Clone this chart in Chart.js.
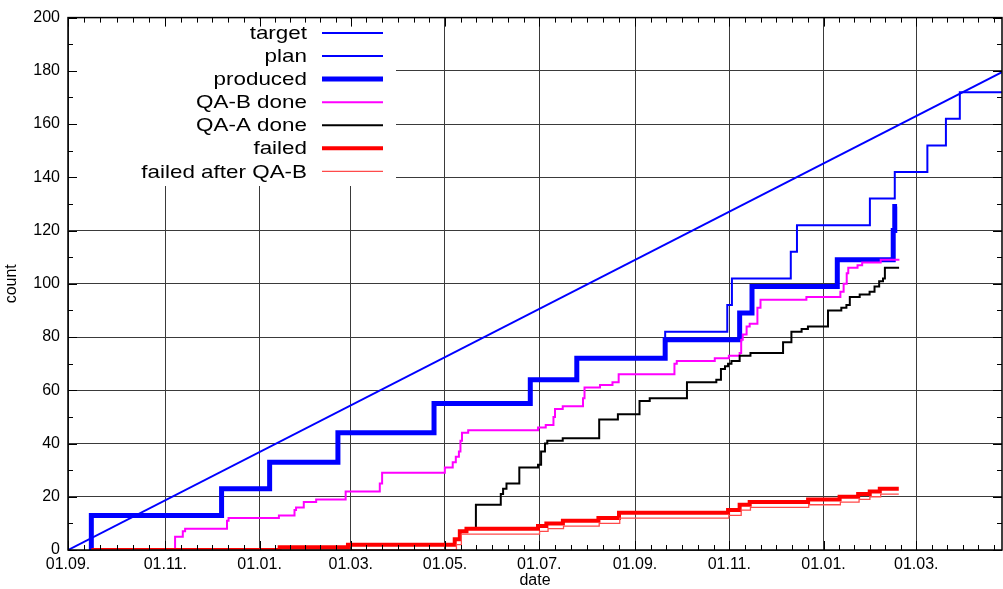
<!DOCTYPE html>
<html><head><meta charset="utf-8">
<script src="https://cdn.jsdelivr.net/npm/chart.js@4/dist/chart.umd.min.js"></script>
<style>html,body{margin:0;padding:0;background:#fff}#c{display:block}</style>
</head><body>
<canvas id="c" width="1003" height="589"></canvas>
<script>
// x values are days counted from the first 01.09.
const xMin = -2, xMax = 602.5;
const tickDays = [-2, 61, 122, 181, 242, 303, 365, 426, 487, 547];
const tickLabels = ['01.09.', '01.11.', '01.01.', '01.03.', '01.05.', '01.07.', '01.09.', '01.11.', '01.01.', '01.03.'];
const yTickValues = [0, 20, 40, 60, 80, 100, 120, 140, 160, 180, 200];

const targetDays = [-2, 602.5];
const targetValues = [0, 179.5];

const planDays = [13.1, 13.1, 97.4, 128.5, 172.7, 234.9, 297.2, 327.3, 384.5, 424.7, 427.7, 465.8, 469.8, 517, 533.1, 554.2, 566.2, 575.2, 602.5];
const planValues = [0, 13, 23, 33, 44, 55, 64, 72, 82, 92, 102, 112, 122, 132, 142, 152, 162, 172, 172];

const producedDays = [13.1, 13.1, 97.4, 128.5, 172.7, 234.9, 297.2, 327.3, 384.5, 432.7, 440.7, 495.9, 532.1, 533.1, 534.6];
const producedValues = [0, 13, 23, 33, 44, 55, 64, 72, 79, 89, 99, 109, 120, 129, 129];

const qaBDays = [13.1, 67.3, 72.3, 73.8, 100.9, 101.9, 134.5, 144.6, 145.6, 150.6, 158.6, 177.7, 199.8, 201.3, 241.9, 247, 249, 251, 252, 253, 257, 302.2, 307.2, 312.2, 313.2, 318.2, 331.3, 332.3, 342.3, 350.4, 354.4, 390.5, 392, 416.6, 425.7, 432.7, 433.7, 434.7, 437.2, 439.2, 444.2, 446.2, 475.9, 497.9, 500, 502, 503, 509, 512, 524, 536.1];
const qaBValues = [0, 5, 7, 8, 11, 12, 13, 15, 16, 18, 19, 22, 25, 29, 31, 33, 35, 37, 41, 44, 45, 46, 47, 50, 53, 54, 57, 61, 62, 63, 66, 70, 71, 72, 73, 74, 79, 81, 84, 85, 91, 94, 95, 97, 100, 104, 106, 107, 108, 109, 109];

const qaADays = [256, 262, 278.1, 279.6, 281.8, 290.1, 302.2, 304.2, 306.7, 308.2, 318.2, 341.8, 353.9, 367.9, 374.5, 398.6, 417.6, 420.6, 423.2, 425.2, 427.4, 432.7, 439.7, 460.8, 466.2, 472.8, 476.9, 489.9, 498.5, 501.8, 504, 510.4, 516.8, 520, 523, 525.5, 526.7, 535.9];
const qaAValues = [8, 17, 21, 23, 25, 31, 32, 37, 40, 41, 42, 49, 51, 56, 57, 63, 64, 68, 69, 70, 71, 73, 74, 78, 82, 83, 84, 90, 91, 92, 95, 96, 97, 99, 101, 102, 106, 106];

const failedDays = [13.1, 135, 179.2, 248.3, 251.6, 255.9, 302.2, 307.6, 318.3, 341.3, 354.6, 425.2, 432.7, 439.2, 477, 497.4, 509.4, 516.9, 523.4, 535.7];
const failedValues = [0, 1, 2, 4, 7, 8, 9, 10, 11, 12, 14, 15, 17, 18, 19, 20, 21, 22, 23, 23];

const failedAfterDays = [13.1, 249.4, 252.6, 303.2, 308.7, 318.7, 341.8, 355.1, 425.7, 433.7, 439.7, 477.4, 497.9, 510, 517, 524, 535.7];
const failedAfterValues = [0, 2, 6, 7, 8, 9, 10, 12, 13, 15, 16, 17, 18, 19, 20, 21, 21];

const mk = (d, v) => d.map((x, i) => ({ x: x, y: v[i] }));
const common = { pointRadius: 0, pointHoverRadius: 0, fill: false, tension: 0, borderJoinStyle: 'miter', borderCapStyle: 'butt' };

const datasets = [
  Object.assign({ label: 'target', data: mk(targetDays, targetValues), borderColor: '#0000ff', borderWidth: 2, stepped: false, order: 6 }, common),
  Object.assign({ label: 'plan', data: mk(planDays, planValues), borderColor: '#0000ff', borderWidth: 2, stepped: true, order: 5 }, common),
  Object.assign({ label: 'produced', data: mk(producedDays, producedValues), borderColor: '#0000ff', borderWidth: 5, stepped: true, order: 4 }, common),
  Object.assign({ label: 'QA-B done', data: mk(qaBDays, qaBValues), borderColor: '#ff00ff', borderWidth: 2, stepped: true, order: 3 }, common),
  Object.assign({ label: 'QA-A done', data: mk(qaADays, qaAValues), borderColor: '#000000', borderWidth: 2, stepped: true, order: 2 }, common),
  Object.assign({ label: 'failed', data: mk(failedDays, failedValues), borderColor: '#ff0000', borderWidth: 4, stepped: true, order: 1 }, common),
  Object.assign({ label: 'failed after QA-B', data: mk(failedAfterDays, failedAfterValues), borderColor: '#ff4a4a', borderWidth: 1.3, stepped: true, order: 0 }, common)
];

const FONT = 'Liberation Sans';

const gnuplotDecor = {
  id: 'gnuplotDecor',
  afterDatasetsDraw(chart) {
    const ctx = chart.ctx;
    const a = chart.chartArea;
    ctx.save();
    // opaque key box
    ctx.fillStyle = '#ffffff';
    ctx.fillRect(a.left + 1, a.top + 1, 395 - a.left, 185 - a.top);
    const textRight = 307, s0 = 322, s1 = 383, row0 = 33, rowStep = 23.05;
    chart.data.datasets.forEach((ds, i) => {
      const y = row0 + i * rowStep;
      ctx.save();
      ctx.translate(textRight, y);
      ctx.scale(1.18, 1);
      ctx.font = '19px "' + FONT + '"';
      ctx.fillStyle = '#000';
      ctx.textAlign = 'right';
      ctx.textBaseline = 'middle';
      ctx.fillText(ds.label, 0, 1);
      ctx.restore();
      ctx.beginPath();
      ctx.strokeStyle = ds.borderColor;
      ctx.lineWidth = ds.borderWidth;
      ctx.moveTo(s0, y);
      ctx.lineTo(s1, y);
      ctx.stroke();
    });
    ctx.restore();
  },
  afterDraw(chart) {
    const ctx = chart.ctx;
    const a = chart.chartArea;
    const xs = chart.scales.x, ys = chart.scales.y;
    ctx.save();
    ctx.strokeStyle = '#000';
    ctx.lineWidth = 1;
    const minorX = [];
    for (let i = 0; i < tickDays.length; i++) {
      const d0 = tickDays[i];
      const last = i + 1 >= tickDays.length;
      const step = last ? (tickDays[i] - tickDays[i - 1]) / 6 : (tickDays[i + 1] - d0) / 6;
      for (let k = 1; ; k++) {
        if (!last && k >= 6) break;
        const v = d0 + k * step;
        if (v >= xs.max) break;
        minorX.push(v);
      }
    }
    ctx.beginPath();
    minorX.forEach(v => {
      const px = Math.round(xs.getPixelForValue(v)) + 0.5;
      ctx.moveTo(px, a.bottom); ctx.lineTo(px, a.bottom - 5);
      ctx.moveTo(px, a.top); ctx.lineTo(px, a.top + 5);
    });
    tickDays.forEach(v => {
      const px = Math.round(xs.getPixelForValue(v)) + 0.5;
      ctx.moveTo(px, a.bottom); ctx.lineTo(px, a.bottom - 9);
      ctx.moveTo(px, a.top); ctx.lineTo(px, a.top + 9);
    });
    yTickValues.forEach((v, i) => {
      const py = Math.round(ys.getPixelForValue(v)) + 0.5;
      ctx.moveTo(a.left, py); ctx.lineTo(a.left + 9, py);
      ctx.moveTo(a.right, py); ctx.lineTo(a.right - 9, py);
      if (i + 1 < yTickValues.length) {
        const pm = Math.round(ys.getPixelForValue((v + yTickValues[i + 1]) / 2)) + 0.5;
        ctx.moveTo(a.left, pm); ctx.lineTo(a.left + 5, pm);
        ctx.moveTo(a.right, pm); ctx.lineTo(a.right - 5, pm);
      }
    });
    ctx.stroke();
    ctx.lineWidth = 1.5;
    ctx.strokeRect(a.left, a.top, a.right - a.left, a.bottom - a.top);
    ctx.restore();
  }
};

new Chart(document.getElementById('c'), {
  type: 'line',
  data: { datasets: datasets },
  options: {
    responsive: false,
    animation: false,
    devicePixelRatio: 1,
    layout: { padding: { top: 16, right: 1, left: 0, bottom: 0 } },
    plugins: { legend: { display: false }, tooltip: { enabled: false } },
    events: [],
    scales: {
      x: {
        type: 'linear', min: xMin, max: xMax,
        afterBuildTicks: s => { s.ticks = tickDays.map(v => ({ value: v })); },
        afterFit: s => { s.height = 39; },
        ticks: {
          autoSkip: false, maxRotation: 0, padding: 5, color: '#000',
          font: { family: FONT, size: 16 },
          callback: v => { const i = tickDays.indexOf(v); return i >= 0 ? tickLabels[i] : ''; }
        },
        grid: { color: '#3a3a3a', lineWidth: 1, drawTicks: false },
        border: { display: false },
        title: { display: true, text: 'date', color: '#000', font: { family: FONT, size: 16, lineHeight: 1 }, padding: 0 }
      },
      y: {
        type: 'linear', min: 0, max: 200,
        afterBuildTicks: s => { s.ticks = yTickValues.map(v => ({ value: v })); },
        afterFit: s => { s.width = 68; },
        ticks: { padding: 8, color: '#000', font: { family: FONT, size: 16 } },
        grid: { color: '#3a3a3a', lineWidth: 1, drawTicks: false },
        border: { display: false },
        title: { display: true, text: 'count', color: '#000', font: { family: FONT, size: 16, lineHeight: 1 }, padding: { top: 4, bottom: 0 } }
      }
    }
  },
  plugins: [gnuplotDecor]
});
</script>
</body></html>
